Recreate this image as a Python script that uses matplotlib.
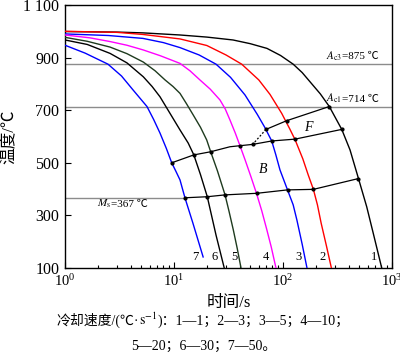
import matplotlib
matplotlib.use("Agg")
import matplotlib.pyplot as plt
from matplotlib.offsetbox import TextArea, HPacker, AnnotationBbox

FAM = ['Liberation Serif', 'Noto Sans CJK SC']
plt.rcParams['font.family'] = FAM
plt.rcParams['mathtext.fontset'] = 'stix'

# ---------------- data (time s, temperature C) ----------------
c1_t = [1, 3, 5.19, 11.35, 20, 34.8, 50, 71.3, 95, 124, 150, 177, 220, 266, 346, 412, 491, 586, 673, 805]
c1_T = [999, 997, 994, 986, 978, 967, 953, 935, 908, 875, 843, 808, 762, 714, 627, 549, 442, 333, 232, 100]

c2_t = [1, 3, 5.19, 11.35, 20, 30, 41.8, 60, 76, 97.3, 115, 129, 152, 170, 190, 207, 224, 250, 278]
c2_T = [1000, 996, 988, 971, 946, 910, 875, 815, 760, 688, 630, 588, 515, 455, 399, 340, 270, 185, 100]

c3_t = [1, 2.5, 5.19, 8, 11.35, 17, 24.3, 33, 44.8, 58.1, 68, 78.8, 86, 93.8, 110, 124, 134, 150, 166]
c3_T = [990, 984, 973, 957, 938, 910, 875, 825, 758, 684, 635, 583, 530, 473, 397, 340, 283, 190, 100]

c4_t = [1, 1.7, 2.59, 3.7, 5.23, 7.5, 11.35, 14, 17.3, 21.5, 26.4, 29.5, 32.6, 36.5, 40.3, 45, 51, 57.4, 63.8, 70.8, 78, 86.2]
c4_T = [986, 975, 961, 947, 929, 907, 878, 850, 815, 780, 739, 705, 663, 613, 565, 510, 445, 381, 318, 248, 180, 100]

c5_t = [1, 1.6, 2.59, 3.7, 5.23, 6.7, 8.28, 9.8, 11.35, 13, 15.0, 17.5, 19.95, 21.7, 25, 29.4, 32, 35.0, 38, 41.2]
c5_T = [977, 962, 940, 915, 883, 850, 815, 790, 764, 725, 682, 635, 587, 542, 470, 378, 315, 245, 175, 100]

c6_t = [1, 1.6, 2.59, 3.7, 5.23, 6.3, 7.44, 9.19, 11.35, 13.5, 15.2, 17.5, 20.2, 24.3, 28.9]
c6_T = [967, 950, 916, 880, 827, 790, 751, 688, 625, 575, 530, 455, 371, 225, 100]

c7_t = [1, 1.53, 2.48, 3.3, 4.21, 5.65, 6.5, 7.44, 8.5, 9.53, 10.4, 11.35, 12.6, 14.9, 18.5]
c7_T = [947, 917, 875, 830, 777, 714, 665, 613, 555, 500, 468, 435, 367, 271, 142]

curves_t = [c1_t, c2_t, c3_t, c4_t, c5_t, c6_t, c7_t]
curves_T = [c1_T, c2_T, c3_T, c4_T, c5_T, c6_T, c7_T]
curve_colors = ['black', '#ff0000', '#0000ff', '#ff00ff', '#1e3a1e', 'black', '#0000ff']
curve_labels = ['1', '2', '3', '4', '5', '6', '7']
label_t = [684, 233, 140, 69.8, 35.7, 23.8, 15.8]
label_T = 143

# transformation lines
fstart_t = [266, 108, 69.8]
fstart_T = [714, 660, 627]
fdash_t = [69.8, 52.7]
fdash_T = [627, 570]
mid_t = [9.53, 15.2, 21.7, 32.6, 40.3, 52.7, 78.8, 129, 346]
mid_T = [500, 530, 542, 561, 565, 570, 583, 590, 627]
low_t = [12.6, 20.2, 29.4, 57.4, 110, 190, 491]
low_T = [367, 371, 378, 384, 397, 399, 440]

Ac3, Ac1, Ms = 875, 714, 367

yticks = [100, 300, 500, 700, 900, 1100]
yticklabels = ['100', '300', '500', '700', '900', '1 100']

# ---------------- figure ----------------
fig = plt.figure(figsize=(4.0, 3.61), dpi=100)
ax = fig.add_axes([65/400, 1-268/361, (392-65)/400, (268-5)/361])
ax.set_xscale('log')
ax.set_xlim(1, 1000)
ax.set_ylim(100, 1100)

grey = '#8c8c8c'
ax.axhline(Ac3, color=grey, lw=1.0, zorder=1)
ax.axhline(Ac1, color=grey, lw=1.0, zorder=1)
ax.plot([1, c7_t[12]], [Ms, Ms], color=grey, lw=1.0, zorder=1)

for t, T, c in zip(curves_t, curves_T, curve_colors):
    ax.plot(t, T, color=c, lw=1.0, zorder=3)

ax.plot(fstart_t, fstart_T, color='black', lw=0.9, zorder=4)
ax.plot(fdash_t, fdash_T, color='black', lw=0.9, ls=(0, (1.5, 1.5)), zorder=4)
ax.plot(mid_t, mid_T, color='black', lw=0.9, zorder=4)
ax.plot(low_t, low_T, color='black', lw=0.9, zorder=4)

dot_kw = dict(ls='none', marker='o', ms=2.0, color='black', zorder=5)
ax.plot(fstart_t, fstart_T, **dot_kw)
ax.plot(mid_t[:3] + mid_t[4:], mid_T[:3] + mid_T[4:], **dot_kw)
ax.plot(low_t, low_T, **dot_kw)

for lab, lt in zip(curve_labels, label_t):
    ax.text(lt, label_T, lab, fontsize=9, ha='center', va='center')

ax.text(169, 636, 'F', fontsize=10, style='italic', ha='center', va='center')
ax.text(65.9, 473, 'B', fontsize=10, style='italic', ha='center', va='center')


def rich(parent, parts, xy, xycoords, box_alignment, fontsize):
    areas = [TextArea(p, textprops=dict(fontsize=fontsize, family=FAM)) for p in parts]
    box = HPacker(children=areas, align='baseline', pad=0, sep=0)
    ab = AnnotationBbox(box, xy, xycoords=xycoords, box_alignment=box_alignment,
                        frameon=False, pad=0)
    parent.add_artist(ab)


rich(ax, [r'$A_{\mathrm{c3}}$', '=875 ℃'], (760, 906), 'data', (1, 0.5), 8)
rich(ax, [r'$A_{\mathrm{c1}}$', '=714 ℃'], (760, 744), 'data', (1, 0.5), 8)
rich(ax, [r'$M_{\mathrm{s}}$', '=367 ℃'], (1.95, 343), 'data', (0, 0.5), 8)

ax.set_yticks(yticks)
ax.set_yticklabels(yticklabels, fontsize=11.5)
ax.tick_params(which='both', direction='in', top=False, right=False)
ax.tick_params(axis='x', labelsize=10.5)
ax.tick_params(which='major', length=4, width=0.8, pad=4)
ax.tick_params(which='minor', length=2.5, width=0.8)
ax.yaxis.set_minor_locator(matplotlib.ticker.NullLocator())
for s in ax.spines.values():
    s.set_linewidth(1.0)

ax.set_xlabel('时间/s', fontsize=12, labelpad=4)
ax.set_ylabel('温度/℃', fontsize=12, labelpad=4)

rich(fig, ['冷却速度/(℃·', r'$\mathrm{s}^{-1}$', ')：1—1；2—3；3—5；4—10；'],
     (0.508, 1-320/361), 'figure fraction', (0.5, 0.5), 10)
fig.text(0.51, 1-346/361, '5—20；6—30；7—50。', fontsize=10, ha='center', va='center')

fig.savefig('out.png', dpi=100)
